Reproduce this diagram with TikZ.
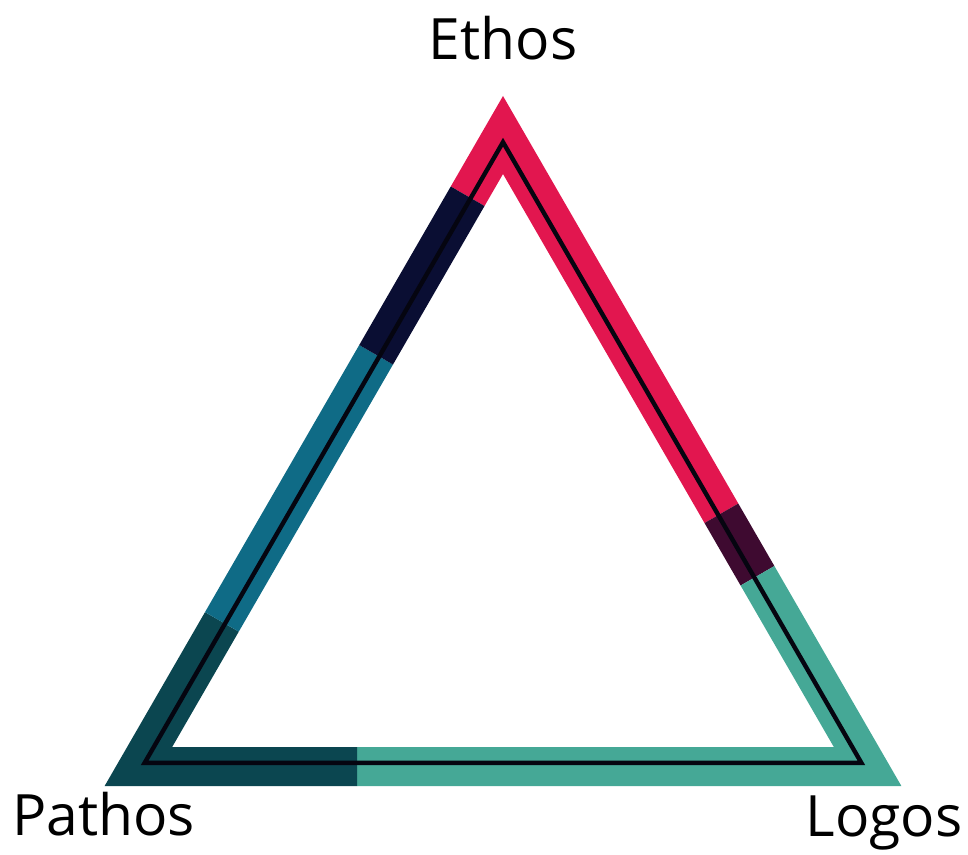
\documentclass[tikz,border=0pt]{standalone}
\usepackage{fontspec}
\setmainfont{Open Sans}
\usepackage{tikz}
\usetikzlibrary{calc}
\definecolor{cRED}{HTML}{E2164F}
\definecolor{cPLUM}{HTML}{3E0A30}
\definecolor{cSEA}{HTML}{45A896}
\definecolor{cPINE}{HTML}{0B4650}
\definecolor{cSTEEL}{HTML}{0F6B86}
\definecolor{cNAVY}{HTML}{0A0E33}
\definecolor{cINK}{HTML}{050510}

\begin{document}
\begin{tikzpicture}[x=0.5pt, y=-0.5pt,
    band/.style={line width=19.5pt, line join=miter, line cap=butt},
    lbl/.style={inner sep=0pt, font=\fontsize{28.5}{34}\selectfont}]
  \useasboundingbox (0,0) rectangle (968,855);

  % Centre and corners of the band
  \coordinate (ctr) at (503,556);
  \coordinate (top) at (503,135);
  \coordinate (bl) at (138.4,766.5);
  \coordinate (br) at (867.6,766.5);

  % Coloured band, piece by piece
  \draw[band, cRED] ($(top)!0.097!(bl)$) -- (top) -- ($(top)!0.599!(br)$);
  \draw[band, cPLUM] ($(top)!0.599!(br)$) -- ($(top)!0.698!(br)$);
  \draw[band, cSEA] ($(top)!0.698!(br)$) -- (br) -- ($(bl)!0.30!(br)$);
  \draw[band, cPINE] ($(bl)!0.30!(br)$) -- (bl) -- ($(top)!0.771!(bl)$);
  \draw[band, cSTEEL] ($(top)!0.771!(bl)$) -- ($(top)!0.348!(bl)$);
  \draw[band, cNAVY] ($(top)!0.348!(bl)$) -- ($(top)!0.097!(bl)$);

  % Thin dark line inside the band
  \draw[line width=2.2pt, cINK, line join=miter]
    ($(ctr)!0.983!(top)$) -- ($(ctr)!0.983!(bl)$) -- ($(ctr)!0.983!(br)$) -- cycle;

  % Labels
  \node[lbl, anchor=base] (ethos) at (503,60) {Ethos};
  \node[lbl, anchor=base west] (pathos) at (12,835) {Pathos};
  \node[lbl, anchor=base east] (logos) at (963,836) {Logos};
\end{tikzpicture}
\end{document}
